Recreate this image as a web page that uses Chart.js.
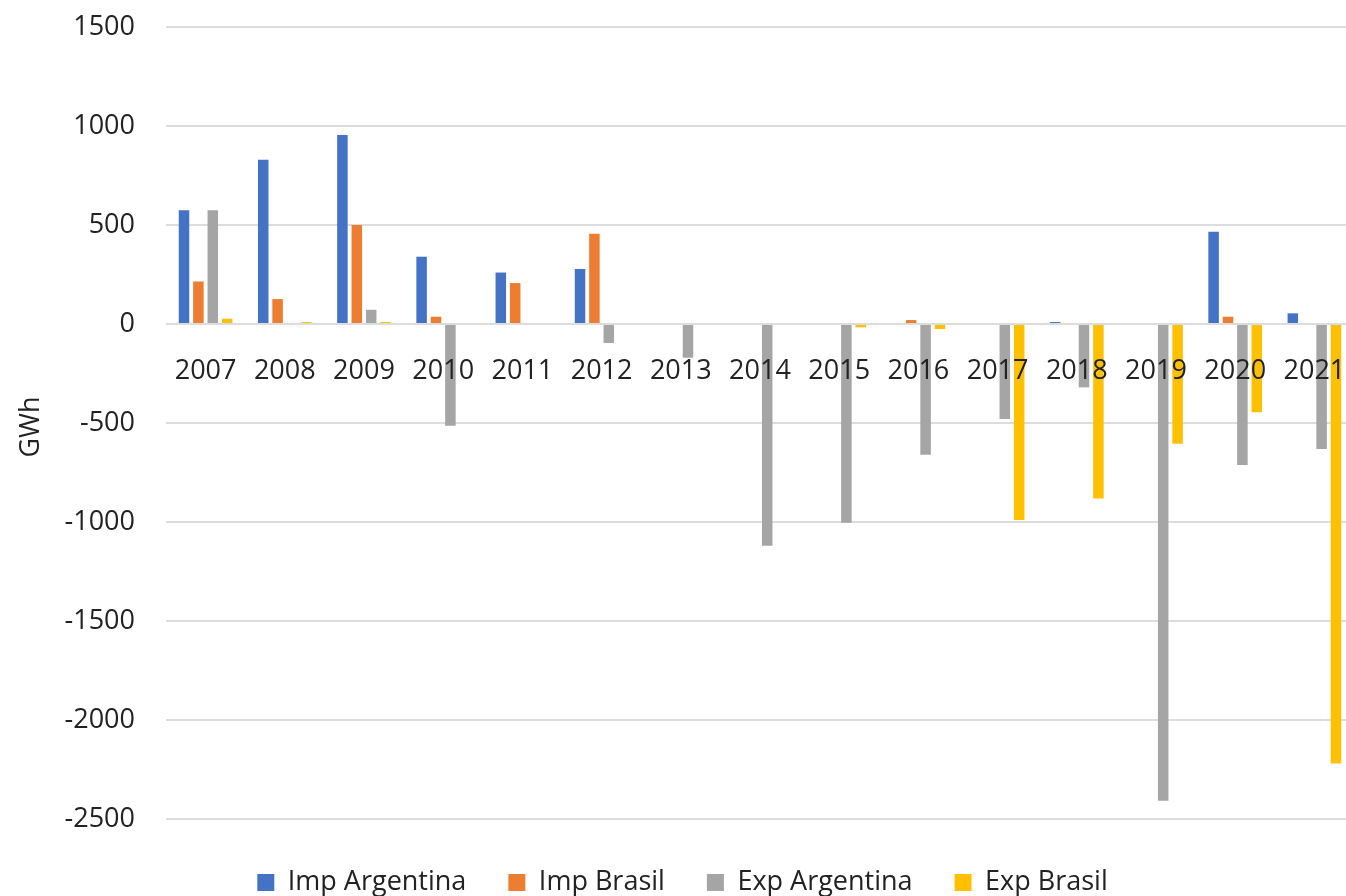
<!DOCTYPE html>
<html>
<head>
<meta charset="utf-8">
<script src="https://cdn.jsdelivr.net/npm/chart.js@4/dist/chart.umd.min.js"></script>
<style>
  html, body { margin: 0; padding: 0; background: #ffffff; overflow: hidden; width: 1346px; height: 896px; }
  #wrap { position: absolute; left: 0; top: 0; }
</style>
</head>
<body>
<div id="wrap"><canvas id="chart" width="1354" height="906"></canvas></div>
<script>
// Intercambio de energía eléctrica (GWh): importaciones positivas, exportaciones negativas
const years = ['2007', '2008', '2009', '2010', '2011', '2012', '2013', '2014', '2015', '2016', '2017', '2018', '2019', '2020', '2021'];

const impArgentina = [575, 830, 955, 340, 260, 278, 0, 0, 0, 0, 0, 10, 0, 466, 54];
const impBrasil    = [215, 126, 500, 37, 207, 456, 0, 0, 0, 20, 0, 0, 0, 37, 0];
const expArgentina = [575, 0, 72, -514, 0, -96, -170, -1120, -1003, -660, -480, -320, -2407, -712, -631];
const expBrasil    = [27, 10, 10, 0, 0, 0, 0, 0, -17, -25, -990, -881, -605, -445, -2219];

const seriesNames = ['Imp Argentina', 'Imp Brasil', 'Exp Argentina', 'Exp Brasil'];
const seriesColors = ['#4472C4', '#ED7D31', '#A5A5A5', '#FFC000'];

const yTickValues = [1500, 1000, 500, 0, -500, -1000, -1500, -2000, -2500];
const yAxisTitle = 'GWh';

const FONT = "'Open Sans', 'Noto Sans', sans-serif";
const TEXT = '#222222';
const GRID = '#dcdcdc';
const CLEAR = 'rgba(0,0,0,0)';

const seriesData = [impArgentina, impBrasil, expArgentina, expBrasil];

new Chart(document.getElementById('chart'), {
  type: 'bar',
  data: {
    labels: years,
    datasets: seriesData.map((vals, i) => ({
      label: seriesNames[i],
      data: vals,
      backgroundColor: seriesColors[i],
      borderWidth: 0,
      categoryPercentage: 0.727,
      barPercentage: 0.73
    }))
  },
  options: {
    responsive: false,
    devicePixelRatio: 1,
    animation: false,
    layout: { padding: { left: 11, top: 27, right: 0, bottom: 0 } },
    plugins: {
      tooltip: { enabled: false },
      legend: {
        position: 'bottom',
        labels: {
          boxWidth: 17,
          boxHeight: 17,
          padding: 42,
          color: TEXT,
          font: { family: FONT, size: 27 }
        }
      }
    },
    scales: {
      x: {
        type: 'category',
        position: { y: 0 },
        grid: { display: true, color: CLEAR, tickColor: CLEAR, drawTicks: true, tickLength: 31 },
        border: { display: false },
        ticks: {
          z: 1, // year labels are painted over the bars
          color: TEXT,
          font: { family: FONT, size: 27 },
          padding: 0,
          maxRotation: 0,
          autoSkip: false
        }
      },
      y: {
        min: -2540,
        max: 1500,
        afterFit: (scale) => { scale.width = 155; },
        afterBuildTicks: (scale) => {
          scale.ticks = yTickValues.map(v => ({ value: v }));
        },
        grid: {
          color: GRID,
          lineWidth: 2,
          drawTicks: true,
          tickLength: 27,
          tickColor: CLEAR
        },
        border: { display: false },
        ticks: {
          color: TEXT,
          font: { family: FONT, size: 27 },
          padding: 4,
          includeBounds: false,
          callback: (v) => String(v)
        },
        title: {
          display: true,
          text: yAxisTitle,
          color: TEXT,
          font: { family: FONT, size: 27 },
          padding: { top: 4, bottom: 4 }
        }
      }
    }
  }
});
</script>
</body>
</html>
